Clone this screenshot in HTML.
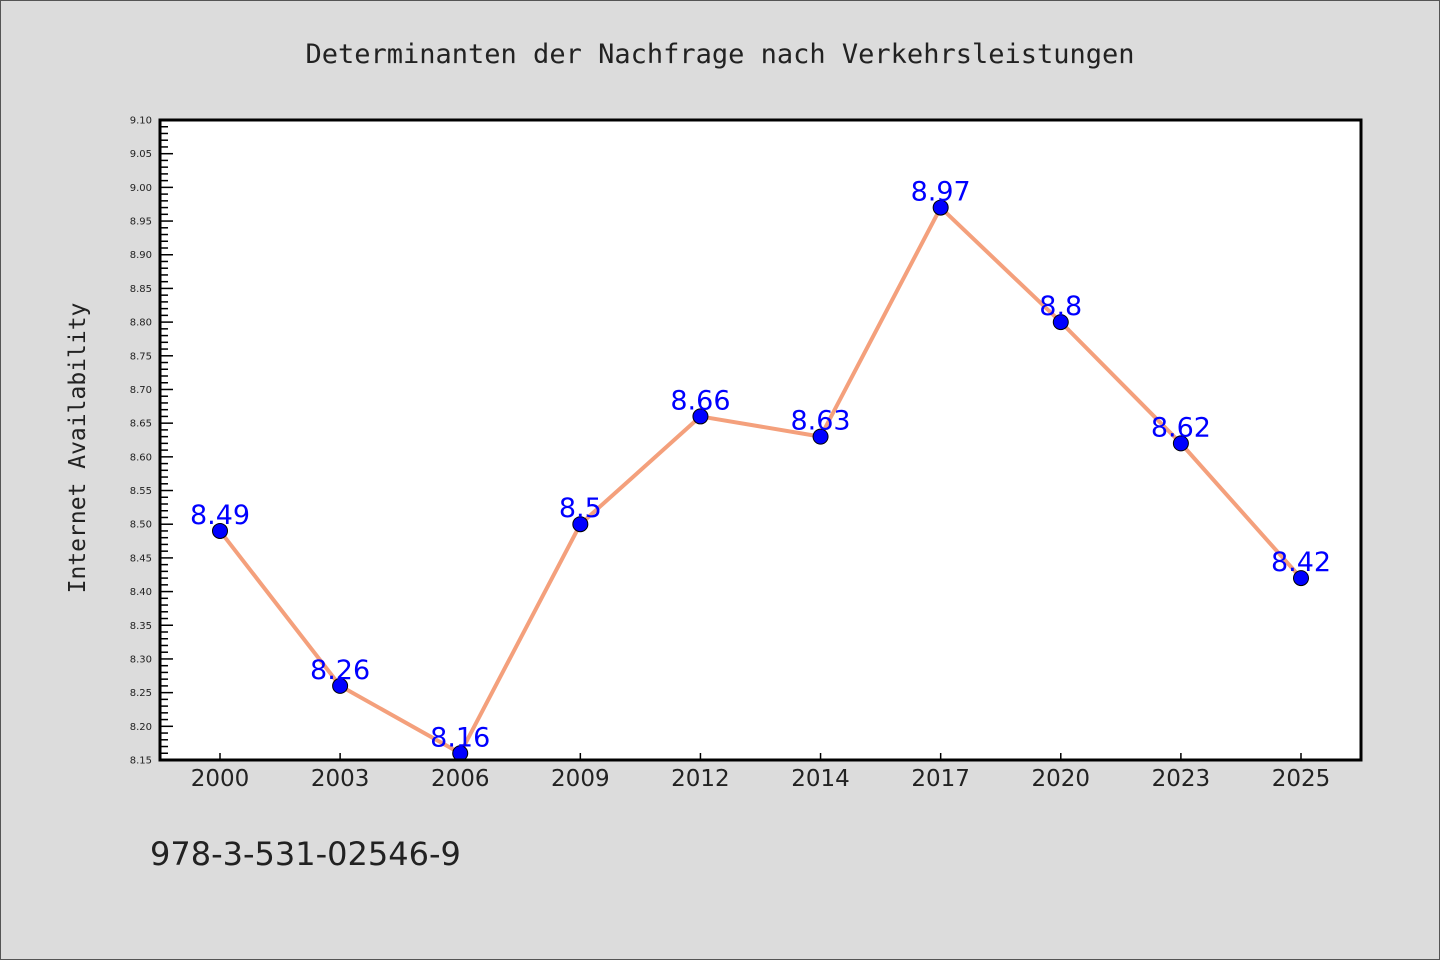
<!DOCTYPE html>
<html><head><meta charset="utf-8"><style>
body{margin:0;background:#dcdcdc;}
svg{display:block;}
</style></head><body>
<svg id="c" width="1440" height="960" xmlns="http://www.w3.org/2000/svg">
<rect x="0.5" y="0.5" width="1439" height="959" fill="#dcdcdc" stroke="#555"/>
<text x="720" y="63" text-anchor="middle" font-family="'DejaVu Sans Mono','Liberation Mono',monospace" font-size="27" fill="#222">Determinanten der Nachfrage nach Verkehrsleistungen</text>
<text transform="translate(85,448) rotate(-90)" text-anchor="middle" font-family="'DejaVu Sans Mono','Liberation Mono',monospace" font-size="23" fill="#222">Internet Availability</text>
<text x="150" y="865" font-family="'DejaVu Sans','Liberation Sans',sans-serif" font-size="32" fill="#222">978-3-531-02546-9</text>
<rect x="160" y="120" width="1201" height="640" fill="#fff"/>
<g id="yax"></g>
<g id="xax"></g>
<g id="series"></g>
<rect x="160" y="120" width="1201" height="640" fill="none" stroke="#000" stroke-width="3"/>
</svg>
<script>
const categories=["2000","2003","2006","2009","2012","2014","2017","2020","2023","2025"];
const values=[8.49,8.26,8.16,8.5,8.66,8.63,8.97,8.8,8.62,8.42];
const valueLabels=["8.49","8.26","8.16","8.5","8.66","8.63","8.97","8.8","8.62","8.42"];
const yMin=8.15,yMax=9.10;
const NS="http://www.w3.org/2000/svg";
const L=160,R=1361,T=120,B=760;
const ys=v=>B-(v-yMin)/(yMax-yMin)*(B-T);
const step=(R-L-120)/(categories.length-1);
const xs=i=>L+60+i*step;
function mk(t,a,p){const e=document.createElementNS(NS,t);for(const k in a)e.setAttribute(k,a[k]);p.appendChild(e);return e;}
const yax=document.getElementById('yax');
for(let k=0;k<=Math.round((yMax-yMin)*100);k++){
 const v=yMin+k*0.01,y=ys(v),major=k%5===0;
 const ln=mk('line',{x1:L,x2:L+(major?13:8),y1:y,y2:y,stroke:'#000','stroke-width':1.5},yax);
 
 
 if(major){const t=mk('text',{x:152,y:y+3.5,'text-anchor':'end','font-family':"'DejaVu Sans','Liberation Sans',sans-serif",'font-size':10,fill:'#222'},yax);t.textContent=v.toFixed(2);
 
 }
}
const xax=document.getElementById('xax');
categories.forEach((c,i)=>{const x=xs(i);
 const ln=mk('line',{x1:x,x2:x,y1:B,y2:B-7,stroke:'#000','stroke-width':1.5},xax);
 
 
 const t=mk('text',{x:x,y:B+26,'text-anchor':'middle','font-family':"'DejaVu Sans','Liberation Sans',sans-serif",'font-size':23,fill:'#222'},xax);t.textContent=c;
 
 
});
const g=document.getElementById('series');
const pl=mk('polyline',{points:values.map((v,i)=>xs(i)+','+ys(v)).join(' '),fill:'none',stroke:'#f4a07c','stroke-width':4,'stroke-linejoin':'round'},g);


values.forEach((v,i)=>{
 const c=mk('circle',{cx:xs(i),cy:ys(v),r:7.5,fill:'#0000ff',stroke:'#000','stroke-width':1},g);
 
 
 const t=mk('text',{x:xs(i),y:ys(v)-7,'text-anchor':'middle','font-family':"'DejaVu Sans','Liberation Sans',sans-serif",'font-size':27,fill:'#0000ff'},g);t.textContent=valueLabels[i];
 
 
});
</script>
</body></html>
